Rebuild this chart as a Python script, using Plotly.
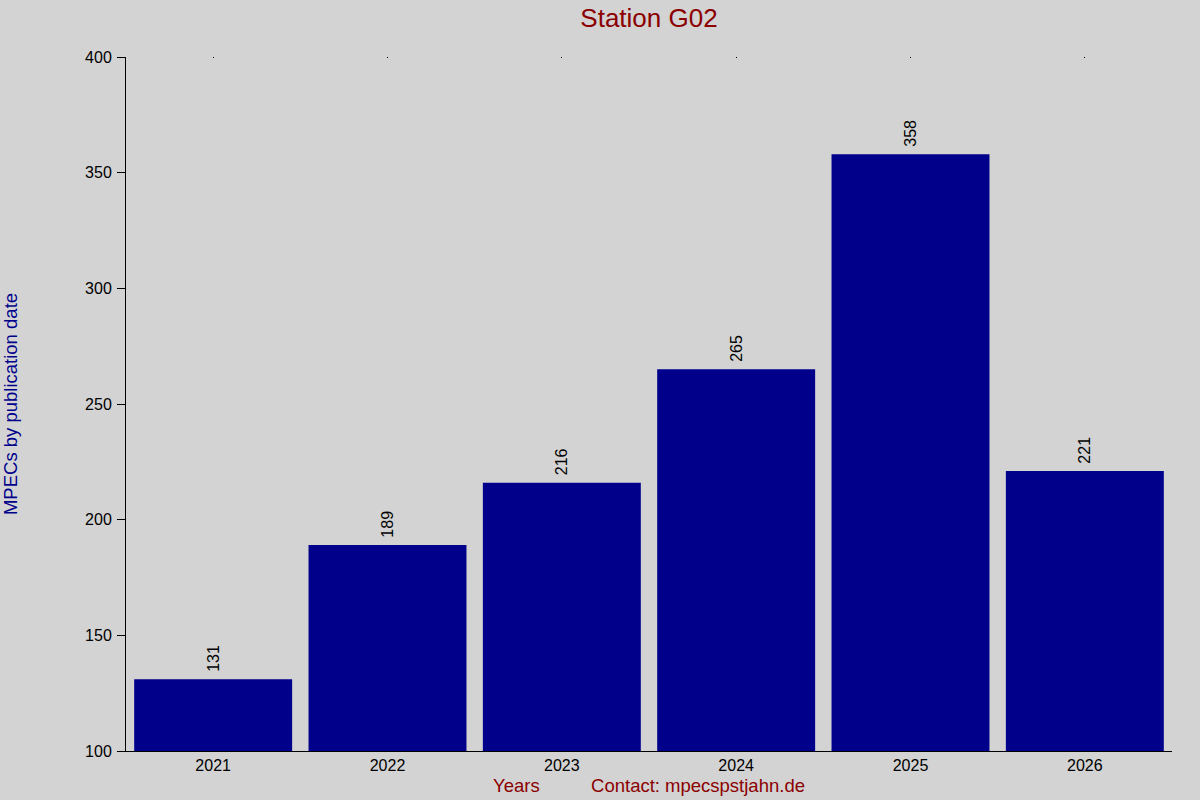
import plotly.graph_objects as go

# MPEC counts per year for station G02
years = ["2021", "2022", "2023", "2024", "2025", "2026"]
counts = [131, 189, 216, 265, 358, 221]

y_ticks = [100, 150, 200, 250, 300, 350, 400]

fig = go.Figure()
fig.add_trace(
    go.Bar(
        x=years,
        y=counts,
        # leading nbsp just to push the rotated label a bit further off the bar
        texttemplate="\u00a0%{y}",
        textposition="outside",
        textangle=-90,
        constraintext="none",
        cliponaxis=False,
        textfont=dict(size=16, color="black"),
        marker=dict(color="#00008b", line=dict(width=0)),
        hoverinfo="x+y",
    )
)

# small tick dots along the top edge
fig.add_trace(
    go.Scatter(x=[0, 5], y=[None, None], xaxis="x2", showlegend=False, hoverinfo="skip")
)

fig.update_layout(
    width=1200,
    height=800,
    paper_bgcolor="#d3d3d3",
    plot_bgcolor="#d3d3d3",
    font=dict(family="Liberation Sans, Arial, sans-serif", size=16, color="black"),
    margin=dict(l=126, r=28, t=57, b=49, autoexpand=False),
    bargap=0.094,
    showlegend=False,
    title=dict(
        text="Station G02",
        x=0.5,
        xref="paper",
        y=0.978,
        yanchor="middle",
        font=dict(size=26, color="#8b0000"),
    ),
    xaxis=dict(
        type="category",
        showgrid=False,
        showline=True,
        linecolor="black",
        linewidth=1,
        ticks="",
        tickfont=dict(size=16, color="black"),
        title=dict(
            text="Years          Contact: mpecspstjahn.de",
            font=dict(size=18.5, color="#8b0000"),
            standoff=5,
        ),
        automargin=False,
        range=[-0.5, 5.5],
    ),
    xaxis2=dict(
        overlaying="x",
        side="top",
        range=[-0.5, 5.5],
        tickvals=[0, 1, 2, 3, 4, 5],
        ticks="inside",
        ticklen=1,
        tickcolor="black",
        showticklabels=False,
        showgrid=False,
        showline=False,
        zeroline=False,
    ),
    yaxis=dict(
        range=[100, 400],
        tickvals=y_ticks,
        showgrid=False,
        zeroline=False,
        showline=True,
        linecolor="black",
        linewidth=1,
        ticks="outside",
        ticklen=8,
        tickcolor="black",
        ticklabelstandoff=2,
        tickfont=dict(size=16, color="black"),
        title=dict(
            text="MPECs by publication date",
            font=dict(size=18.5, color="#00008b"),
            standoff=62,
        ),
        automargin=False,
    ),
)

fig.write_html(
    "out.html",
    config={"displayModeBar": False},
    post_script="document.body.style.margin='0';",
)
